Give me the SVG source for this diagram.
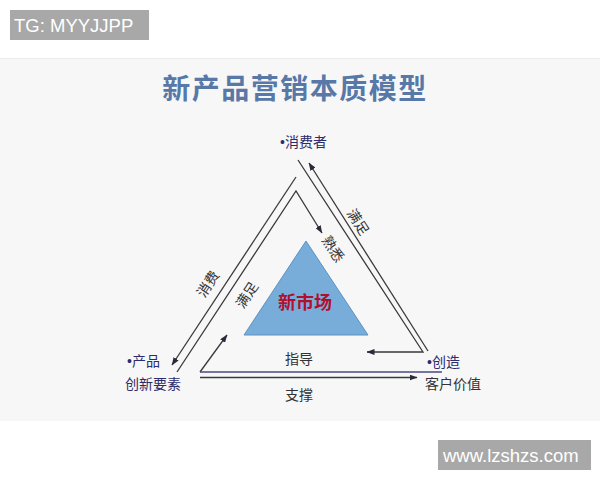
<svg xmlns="http://www.w3.org/2000/svg" width="600" height="480" viewBox="0 0 600 480">
<defs>
<style>
.ln{fill:none;stroke:#3a3a3a;stroke-width:1.3}
.lab{font-family:"Noto Sans CJK SC","Liberation Sans",sans-serif;font-size:14px;fill:#333}
.nav{fill:#2c2c6c}
.bul{font-family:"Liberation Sans",Arial,sans-serif}
.wm{font-family:"Liberation Sans",Arial,sans-serif;font-size:18.5px;fill:#ffffff}
</style>
<marker id="ah" viewBox="0 0 8 6" refX="7.5" refY="3" markerWidth="8" markerHeight="6" markerUnits="userSpaceOnUse" orient="auto">
<path d="M0,0 L8,3 L0,6 Z" fill="#2a2a3a"/>
</marker>
</defs>
<rect x="0" y="0" width="600" height="480" fill="#ffffff"/>
<rect x="0" y="58.5" width="600" height="362.5" fill="#f7f7f7"/>
<line x1="0" y1="58.5" x2="600" y2="58.5" stroke="#ececec" stroke-width="1"/>

<g id="watermark-top">
<rect x="10" y="10" width="139" height="30" fill="#a8a8a8"/>
<text class="wm" x="14" y="31.5">TG: MYYJJPP</text>
</g>
<g id="watermark-bottom">
<rect x="438" y="440" width="153" height="30" fill="#a8a8a8"/>
<text class="wm" x="443" y="462" font-size="19.5">www.lzshzs.com</text>
</g>

<g id="title">
<text x="295" y="99" text-anchor="middle" font-family="Noto Sans CJK SC,sans-serif" font-size="28" font-weight="bold" fill="#5878a8" letter-spacing="1.5">新产品营销本质模型</text>
</g>

<g id="connectors">
<line class="ln" x1="296" y1="177" x2="172" y2="365" marker-end="url(#ah)"/>
<polyline class="ln" points="177,372 296,191 322,233" marker-end="url(#ah)"/>
<polyline class="ln" points="298,160 423,352 367,352" marker-end="url(#ah)"/>
<line class="ln" x1="428" y1="351" x2="309" y2="163" marker-end="url(#ah)"/>
<line class="ln" x1="200" y1="372" x2="227" y2="335" marker-end="url(#ah)"/>
<line x1="200" y1="372" x2="442" y2="372" stroke="#4a4a80" stroke-width="1.3"/>
<line class="ln" x1="200" y1="377.5" x2="417" y2="377.5" marker-end="url(#ah)"/>
</g>

<g id="new-market">
<polygon points="306,241 368,335 244,335" fill="#78acd9" stroke="#5b93c4" stroke-width="1"/>
<text x="305" y="309" text-anchor="middle" font-family="Noto Sans CJK SC,sans-serif" font-size="18" font-weight="bold" fill="#b01030">新市场</text>
</g>

<g id="consumer">
<text class="lab nav" x="280" y="147"><tspan class="bul">•</tspan>消费者</text>
</g>
<g id="product">
<text class="lab nav" x="127" y="366"><tspan class="bul">•</tspan>产品</text>
<text class="lab nav" x="125" y="389" font-size="15">创新要素</text>
</g>
<g id="create">
<text class="lab nav" x="427" y="367"><tspan class="bul">•</tspan>创造</text>
<text class="lab" x="425" y="389" font-size="15" fill="#454a66">客户价值</text>
</g>

<g id="edge-labels">
<text class="lab" transform="translate(358,222) rotate(57)" text-anchor="middle" dy="5">满足</text>
<text class="lab" transform="translate(333,249) rotate(57)" text-anchor="middle" dy="5">熟悉</text>
<text class="lab" transform="translate(208,284) rotate(-57)" text-anchor="middle" dy="5">消费</text>
<text class="lab" transform="translate(247,295) rotate(-57)" text-anchor="middle" dy="5">满足</text>
<text class="lab" x="299" y="364" text-anchor="middle">指导</text>
<text class="lab" x="299" y="400" text-anchor="middle">支撑</text>
</g>
</svg>
